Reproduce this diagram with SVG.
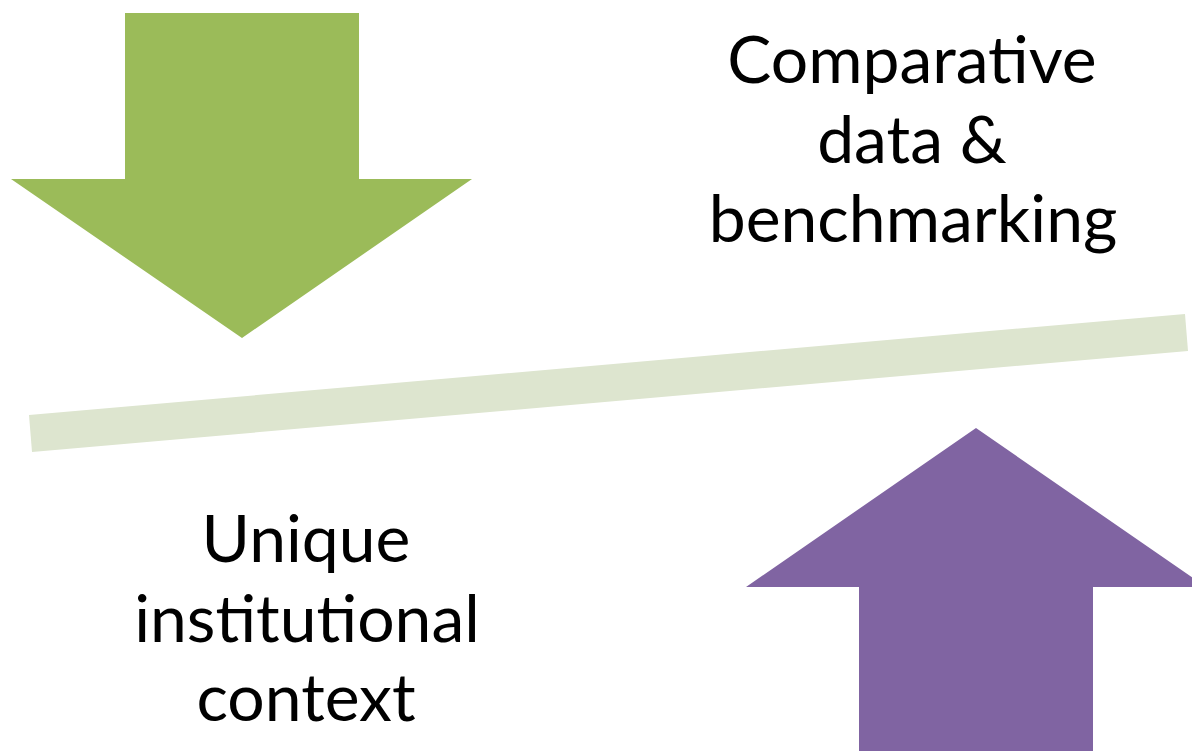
<svg xmlns="http://www.w3.org/2000/svg" width="1192" height="751" viewBox="0 0 1192 751">
  <style>
    .lbl { font-family: Lato, "Open Sans", "Liberation Sans", sans-serif; font-size: 66px; fill: #000000; text-anchor: middle; }
  </style>
  <rect x="0" y="0" width="1192" height="751" fill="#ffffff"/>
  <g id="balance-bar">
    <polygon points="29,415 1185,314 1188,351 32,452" fill="#DDE5CF"/>
  </g>
  <g id="down-arrow">
    <polygon points="125,13 359,13 359,179 472,179 242,338 11,179 125,179" fill="#9BBB59"/>
  </g>
  <g id="up-arrow">
    <polygon points="976,428 1206,587 1093,587 1093,751 859,751 859,587 746,587" fill="#8064A2"/>
  </g>
  <g id="label-comparative">
    <text class="lbl" x="912" y="83">Comparative</text>
    <text class="lbl" x="912" y="163">data &amp;</text>
    <text class="lbl" x="913" y="242">benchmarking</text>
  </g>
  <g id="label-unique">
    <text class="lbl" x="306" y="562">Unique</text>
    <text class="lbl" x="307" y="642">institutional</text>
    <text class="lbl" x="306" y="721">context</text>
  </g>
</svg>
